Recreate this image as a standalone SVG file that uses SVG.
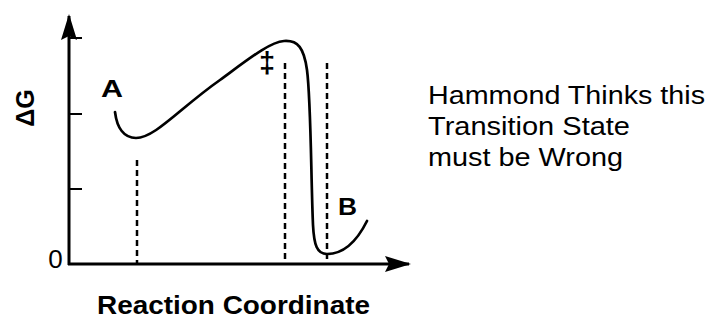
<svg xmlns="http://www.w3.org/2000/svg" width="712" height="320" viewBox="0 0 712 320">
<style>
.ax{stroke:#000;stroke-width:3;fill:none}
.tk{stroke:#000;stroke-width:2;fill:none}
.dash{stroke:#000;stroke-width:2.5;stroke-dasharray:6 4;fill:none}
.curve{stroke:#000;stroke-width:2.7;fill:none;stroke-linecap:round}
.b{font-family:"Liberation Sans",Arial,sans-serif;font-weight:bold;fill:#000}
.r{font-family:"Liberation Sans",Arial,sans-serif;fill:#000}
</style>
<defs>
<marker id="arr" viewBox="0 0 26 16" refX="24" refY="8" markerWidth="26" markerHeight="16" markerUnits="userSpaceOnUse" orient="auto">
<path d="M0,0 L26,8 L0,16 L4,8 Z" fill="#000"/>
</marker>
</defs>
<g id="axes">
<line class="ax" x1="69" y1="265" x2="69" y2="16" marker-end="url(#arr)"/>
<line class="ax" x1="68" y1="264" x2="409" y2="264" marker-end="url(#arr)"/>
<line class="tk" x1="69" y1="38" x2="82" y2="38"/>
<line class="tk" x1="69" y1="114" x2="82" y2="114"/>
<line class="tk" x1="69" y1="189" x2="82" y2="189"/>
<text class="r" x="55.5" y="268" font-size="26" text-anchor="middle">0</text>
<text class="b" font-size="25" text-anchor="middle" transform="translate(34,108) rotate(-90)">ΔG</text>
</g>
<g id="connectors">
<line class="dash" x1="137" y1="160" x2="137" y2="264"/>
<line class="dash" x1="285" y1="63" x2="285" y2="264"/>
<line class="dash" x1="327" y1="63" x2="327" y2="264"/>
</g>
<g id="curve">
<path class="curve" d="M115,112 C117,128 124,138 136,138 C155,138 180,108 220,80 C250,58 270,42 284,41 C298,40 304,48 307,70 C311,100 311,180 313,225 C314,245 317,254 327,254 C342,254 356,243 367,221"/>
</g>
<g id="A"><text class="b" x="101" y="97" font-size="24" textLength="22" lengthAdjust="spacingAndGlyphs">A</text></g>
<g id="B"><text class="b" x="338" y="215" font-size="24" textLength="19" lengthAdjust="spacingAndGlyphs">B</text></g>
<g id="TS"><text class="b" x="267" y="73" font-size="29" text-anchor="middle">‡</text></g>
<g id="xlabel"><text class="b" x="97" y="314" font-size="25" textLength="273" lengthAdjust="spacingAndGlyphs">Reaction Coordinate</text></g>
<g id="note">
<text class="r" x="428" y="104" font-size="26" textLength="277" lengthAdjust="spacingAndGlyphs">Hammond Thinks this</text>
<text class="r" x="428" y="135" font-size="26" textLength="202" lengthAdjust="spacingAndGlyphs">Transition State</text>
<text class="r" x="428" y="166" font-size="26" textLength="195" lengthAdjust="spacingAndGlyphs">must be Wrong</text>
</g>
</svg>
